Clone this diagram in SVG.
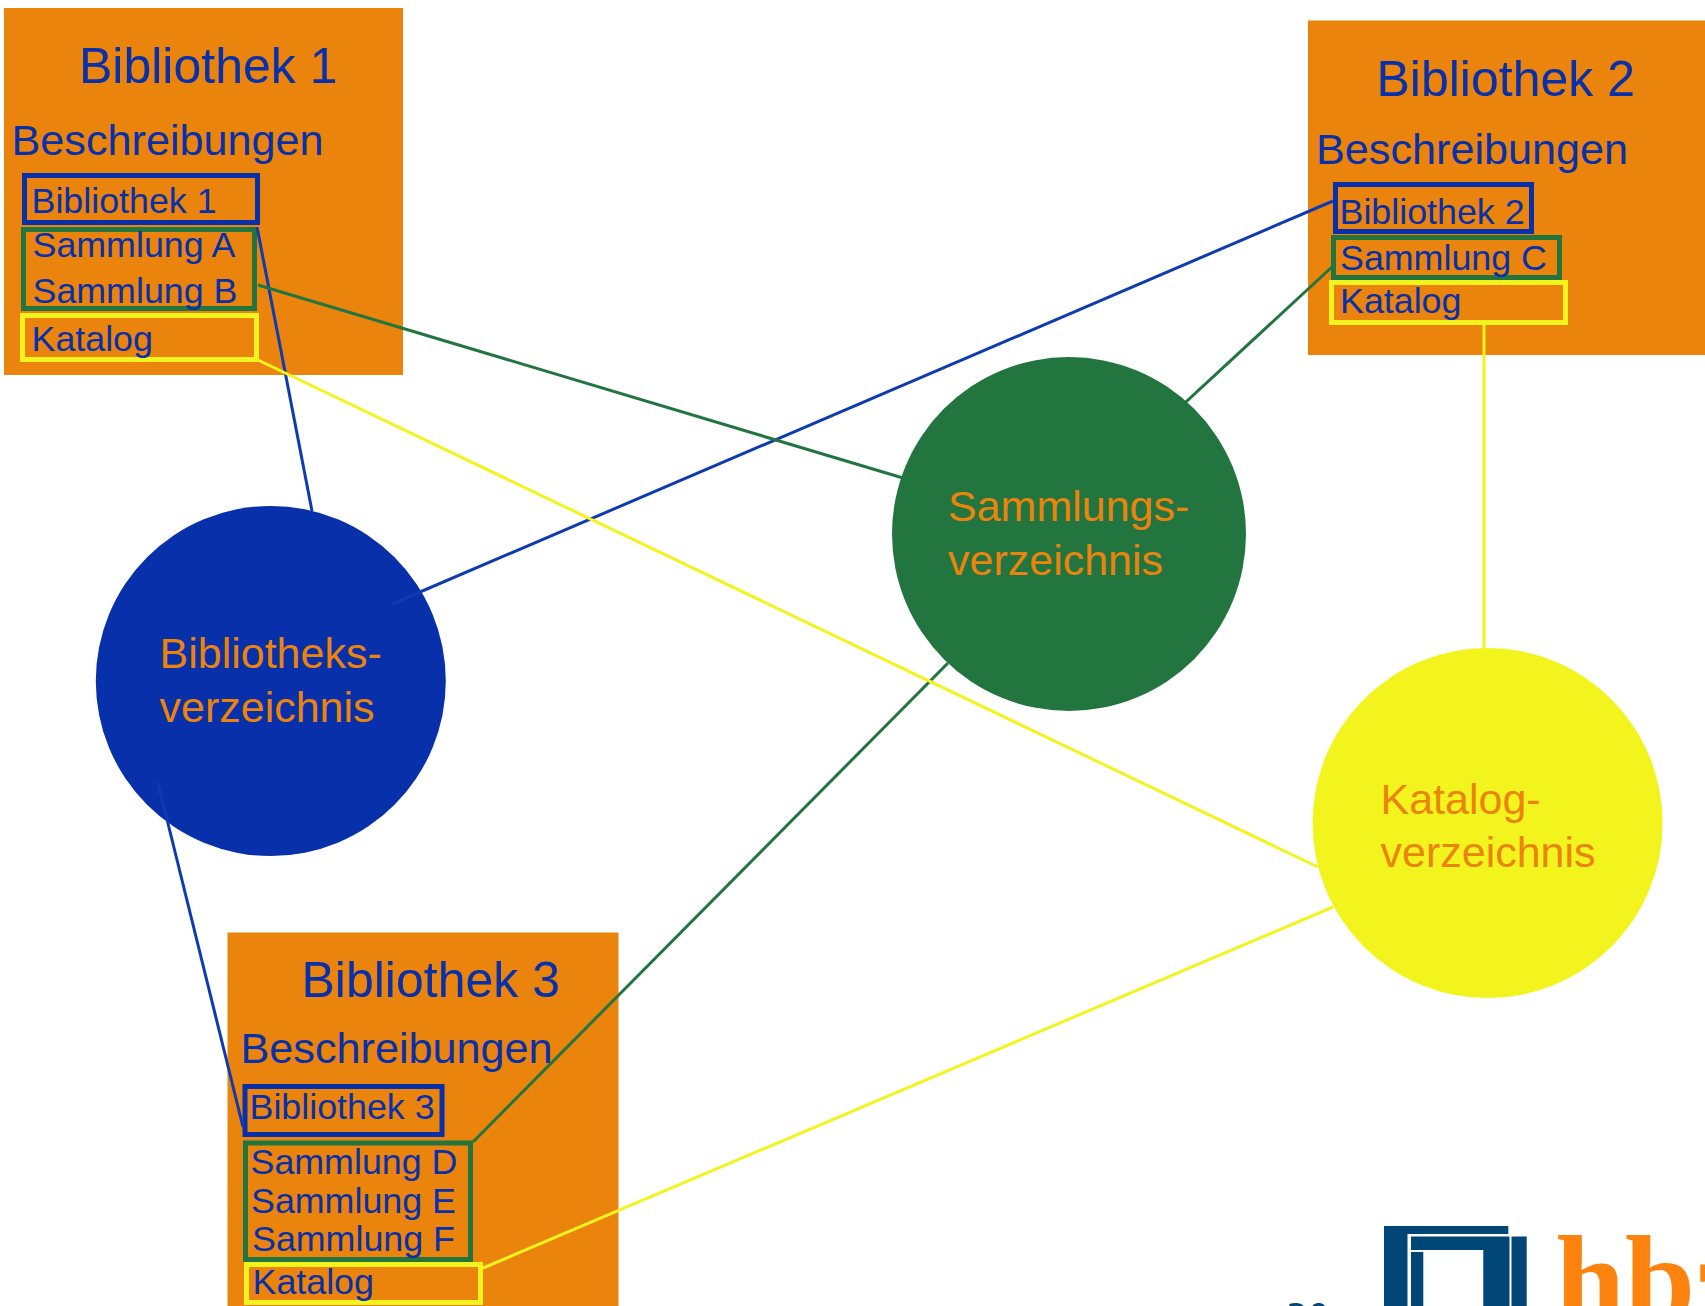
<svg xmlns="http://www.w3.org/2000/svg" width="1705" height="1306" viewBox="0 0 1705 1306">
<style>
text{font-family:"Liberation Sans",Arial,sans-serif}
.box{fill:#ea840c}
.t{fill:#0730aa;font-size:50px}
.h{fill:#0730aa;font-size:43.2px}
.s{fill:#0730aa;font-size:35.8px}
.c{fill:#ea840c;font-size:43px}
.fb,.fg,.fy{fill:none;stroke-width:5}
.fb{stroke:#0730aa}.fg{stroke:#237540}.fy{stroke:#f3f31e}
.lb,.lg,.ly{fill:none;stroke-width:3}
.lb{stroke:#0e3bb0}.lg{stroke:#237540}.ly{stroke:#f3f31e}
</style>
<rect width="1705" height="1306" fill="#fff"/>
<g id="bibliothek-1">
<rect class="box" x="4" y="8" width="399" height="367"/>
<text class="t" x="79" y="83">Bibliothek 1</text>
<text class="h" x="11.500" y="155">Beschreibungen</text>
<rect class="fb" x="24.500" y="175.500" width="233" height="47"/>
<text class="s" x="31.500" y="213">Bibliothek 1</text>
<rect class="fg" x="23.500" y="229.500" width="231" height="79"/>
<text class="s" x="32.500" y="257">Sammlung A</text>
<text class="s" x="32.500" y="303">Sammlung B</text>
<rect class="fy" x="22.500" y="315.500" width="234" height="44"/>
<text class="s" x="31.500" y="350.500">Katalog</text>
</g>
<g id="bibliothek-2">
<rect class="box" x="1308" y="20.500" width="397" height="334.500"/>
<text class="t" x="1376.500" y="95.500">Bibliothek 2</text>
<text class="h" x="1316" y="164">Beschreibungen</text>
<rect class="fb" x="1335.500" y="184.500" width="196" height="47"/>
<text class="s" x="1339.500" y="224">Bibliothek 2</text>
<rect class="fg" x="1333.500" y="237.500" width="226" height="40"/>
<text class="s" x="1340" y="269.500">Sammlung C</text>
<rect class="fy" x="1331.500" y="282.500" width="234" height="40"/>
<text class="s" x="1340" y="312.500">Katalog</text>
</g>
<g id="bibliothek-3">
<rect class="box" x="227.500" y="932.500" width="391" height="373.500"/>
<text class="t" x="301.500" y="997">Bibliothek 3</text>
<text class="h" x="240.500" y="1063">Beschreibungen</text>
<rect class="fb" x="245" y="1086.500" width="197" height="48"/>
<text class="s" x="249.500" y="1119">Bibliothek 3</text>
<rect class="fg" x="245.500" y="1143" width="225" height="116.500"/>
<text class="s" x="250.500" y="1174">Sammlung D</text>
<text class="s" x="251" y="1213">Sammlung E</text>
<text class="s" x="252" y="1251">Sammlung F</text>
<rect class="fy" x="246.500" y="1264.500" width="234" height="38"/>
<text class="s" x="252.500" y="1294">Katalog</text>
</g>
<g id="bibliotheksverzeichnis">
<circle cx="270.800" cy="681" r="175" fill="#0730aa"/>
<text class="c" x="159.500" y="668">Bibliotheks-</text>
<text class="c" x="159.500" y="722">verzeichnis</text>
</g>
<g id="sammlungsverzeichnis">
<circle cx="1069" cy="534" r="177" fill="#237540"/>
<text class="c" x="948" y="521">Sammlungs-</text>
<text class="c" x="948" y="575">verzeichnis</text>
</g>
<g id="katalogverzeichnis">
<circle cx="1487.600" cy="823" r="175" fill="#f3f31e"/>
<text class="c" x="1380.500" y="814">Katalog-</text>
<text class="c" x="1380.500" y="867">verzeichnis</text>
</g>
<g id="connectors">
<line class="lb" x1="257" y1="227" x2="312" y2="511"/>
<line class="lb" x1="1333" y1="201" x2="392" y2="604"/>
<line class="lb" x1="158" y1="783" x2="243" y2="1127"/>
<line class="lg" x1="258" y1="285" x2="903" y2="478"/>
<line class="lg" x1="1333" y1="266" x2="1148" y2="437"/>
<line class="lg" x1="948" y1="663" x2="473" y2="1142"/>
<line class="ly" x1="258" y1="360" x2="1318" y2="867"/>
<line class="ly" x1="1484" y1="325" x2="1484" y2="649"/>
<line class="ly" x1="1333" y1="907" x2="483" y2="1268"/>
</g>
<g id="footer">
<text x="1286" y="1328" font-size="34" fill="#004677" style="font-family:'DejaVu Sans',sans-serif">30</text>
<path fill="#004677" d="M1384 1226H1508.300V1234H1407.500V1306H1384ZM1411 1236.500H1526.700V1306H1511.500V1236.500H1509.500V1306H1483.300V1250H1411ZM1411 1252H1423.300V1306H1411Z"/>
<text x="1555" y="1323" font-size="126" font-weight="bold" fill="#fc830e" style="font-family:'Liberation Serif',serif">hbz</text>
</g>
</svg>
